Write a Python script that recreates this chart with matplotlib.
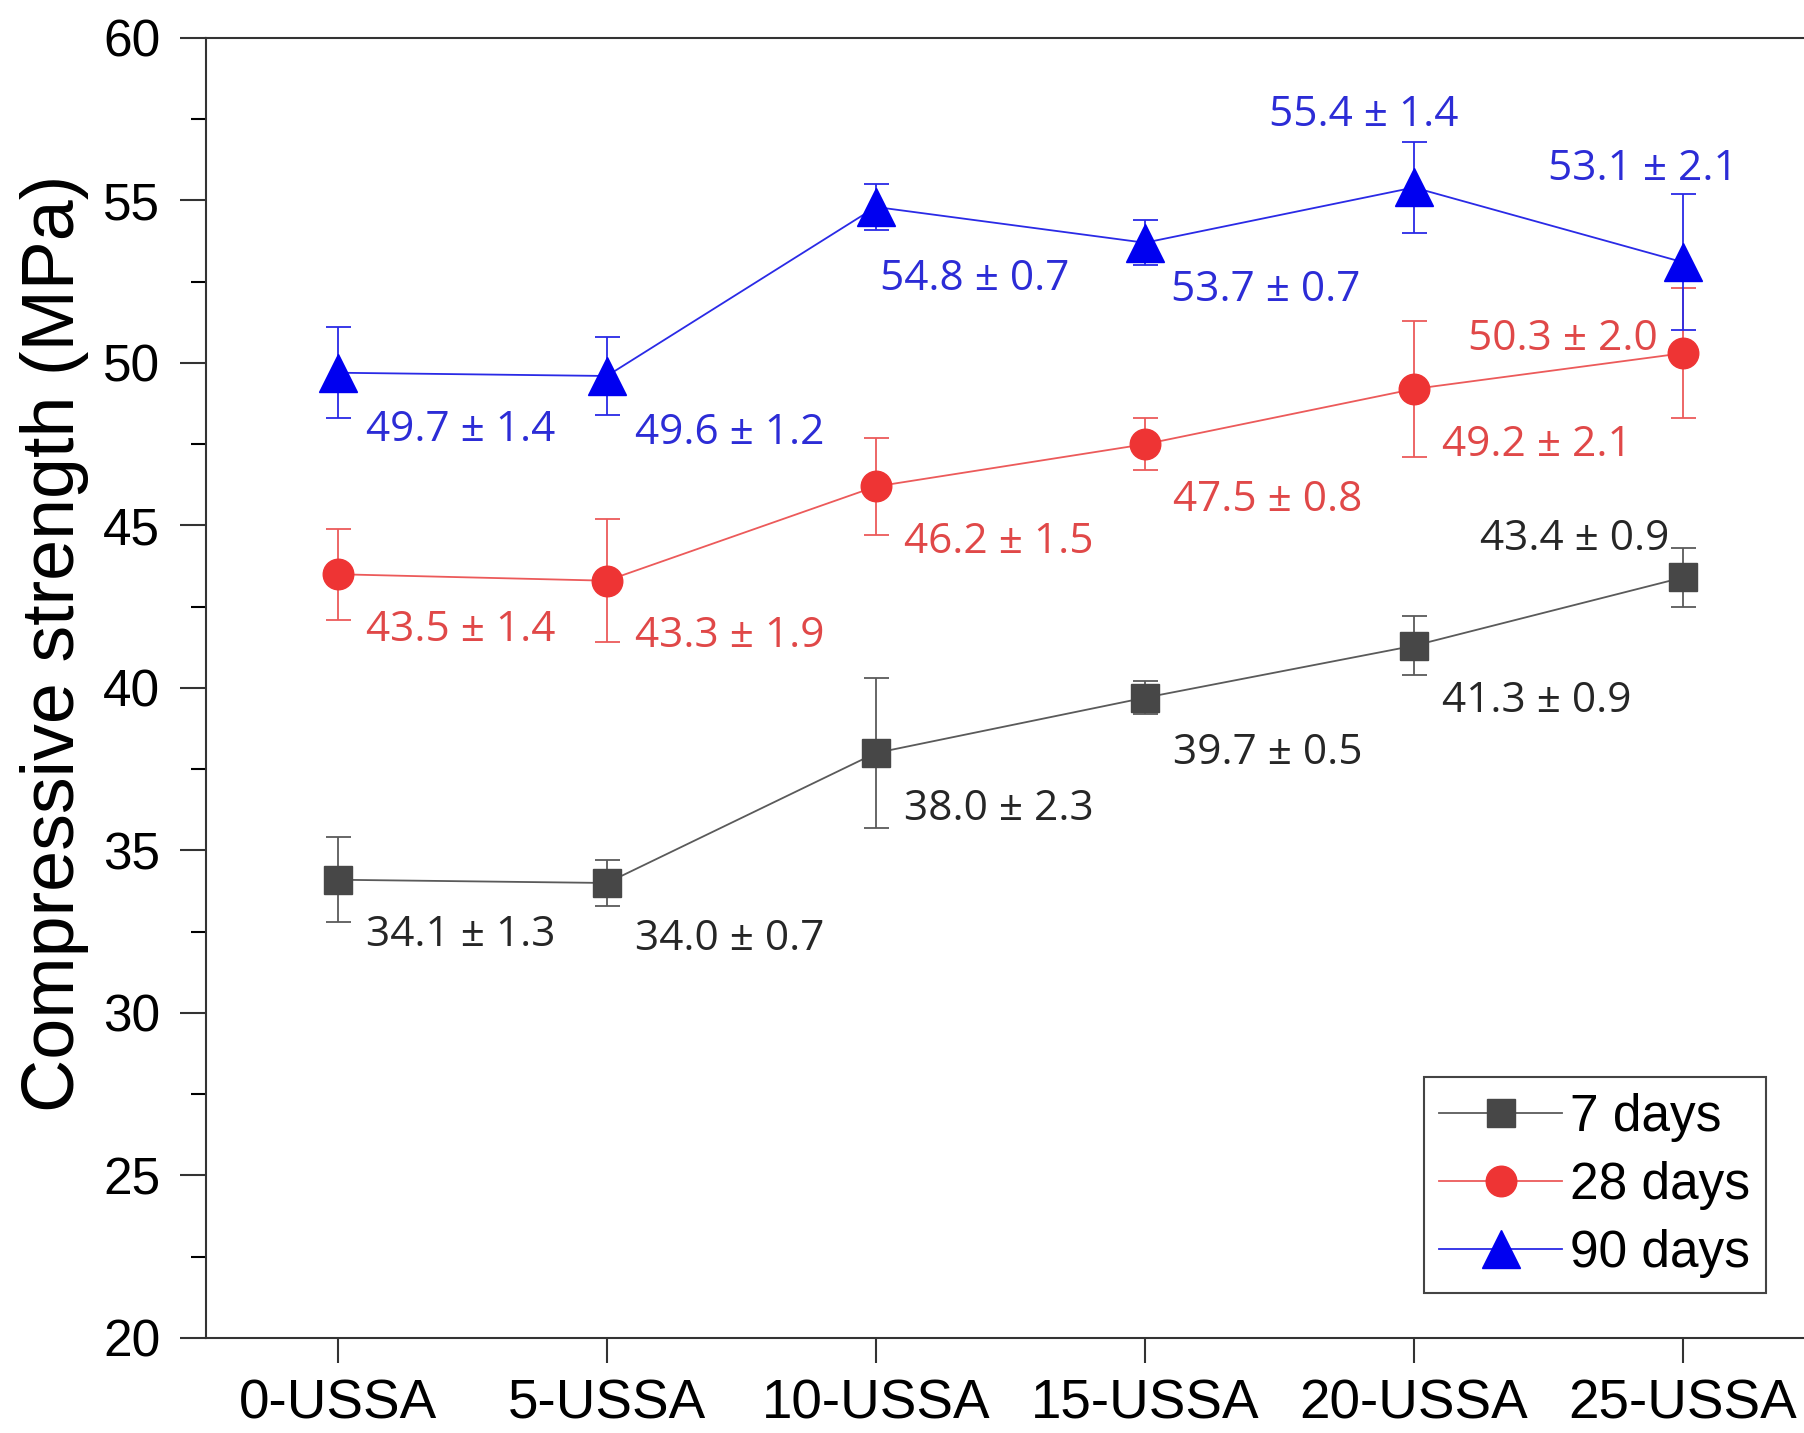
import numpy as np
import matplotlib
matplotlib.use("Agg")
import matplotlib.pyplot as plt

# data
categories = ["0-USSA", "5-USSA", "10-USSA", "15-USSA", "20-USSA", "25-USSA"]
series_names = ["7 days", "28 days", "90 days"]
mean_7 = [34.1, 34.0, 38.0, 39.7, 41.3, 43.4]
std_7 = [1.3, 0.7, 2.3, 0.5, 0.9, 0.9]
mean_28 = [43.5, 43.3, 46.2, 47.5, 49.2, 50.3]
std_28 = [1.4, 1.9, 1.5, 0.8, 2.1, 2.0]
mean_90 = [49.7, 49.6, 54.8, 53.7, 55.4, 53.1]
std_90 = [1.4, 1.2, 0.7, 0.7, 1.4, 2.1]

# label offsets in points (dx, dy, ha)
off_7 = [(20, -40, "left")] * 5 + [(-10, 28, "right")]
off_28 = [(20, -40, "left")] * 5 + [(-18, 10, "right")]
off_90 = [(20, -41, "left"), (20, -41, "left"), (3, -52, "left"),
          (19, -34, "left"), (-36, 52, "center"), (-29, 67, "center")]

plt.rcParams["font.family"] = ["Liberation Sans", "DejaVu Sans"]

fig = plt.figure(figsize=(18.04, 14.33), dpi=100)
ax = fig.add_axes([0.1142, 0.0663, 0.8858, 0.9072])

x = np.arange(len(categories))
styles = [
    (mean_7, std_7, off_7, "s", 20, "#474747", "#5a5a5a", "#262626"),
    (mean_28, std_28, off_28, "o", 22, "#ee3434", "#ec5a5a", "#e04848"),
    (mean_90, std_90, off_90, "^", 27, "#0000f0", "#2a2ae6", "#2c2cd6"),
]
for name, (m, s, offs, mk, ms, mc, lc, tc) in zip(series_names, styles):
    ax.errorbar(x, m, yerr=s, fmt="none", ecolor=lc, elinewidth=1.3,
                capsize=9, capthick=1.3, zorder=2)
    ax.plot(x, m, color=lc, lw=1.3, marker=mk, ms=ms, mfc=mc, mec=mc,
            label=name, zorder=3)
    for xi, mi, si, (dx, dy, ha) in zip(x, m, s, offs):
        ax.annotate(f"{mi:.1f} \u00b1 {si:.1f}", (xi, mi), xytext=(dx, dy),
                    textcoords="offset points", ha=ha, va="center",
                    fontsize=30.5, color=tc,
                    family=["Open Sans", "DejaVu Sans"])

ax.set_xlim(-0.49, 5.45)
ax.set_ylim(20, 60)
ax.set_xticks(x)
ax.set_xticklabels(categories)
ax.set_yticks(np.arange(20, 61, 5))
ax.set_yticks(np.arange(22.5, 60, 5), minor=True)
ax.tick_params(axis="both", color="#333333", width=1.5)
ax.tick_params(axis="y", which="major", length=19, pad=14, labelsize=37)
ax.tick_params(axis="y", which="minor", length=11, width=1.5)
ax.tick_params(axis="x", which="major", length=18, pad=11, labelsize=39.5)
ax.spines["right"].set_visible(False)
for sp in ["left", "top", "bottom"]:
    ax.spines[sp].set_linewidth(1.5)
    ax.spines[sp].set_color("#333333")

ax.set_ylabel("Compressive strength (MPa)", fontsize=53)
ax.yaxis.set_label_coords(-0.073, 0.534)

leg = ax.legend(loc="lower right", bbox_to_anchor=(0.976, 0.0346),
                borderaxespad=0, fontsize=37, fancybox=False, framealpha=1,
                edgecolor="#444444", handlelength=2.4, handletextpad=0.15,
                labelspacing=0.37, borderpad=0.3)
leg.get_frame().set_linewidth(1.5)

fig.savefig("out.png", dpi=100)
